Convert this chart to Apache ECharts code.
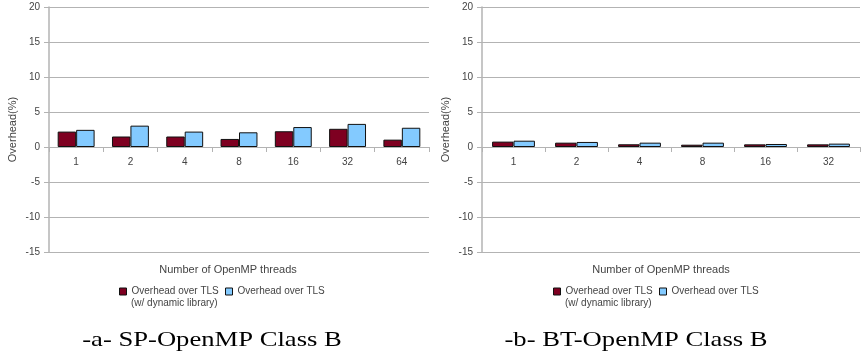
<!DOCTYPE html>
<html>
<head>
<meta charset="utf-8">
<script src="https://cdn.jsdelivr.net/npm/echarts@6/dist/echarts.min.js"></script>
<style>
html,body{margin:0;padding:0;background:#fff;}
#c{width:861px;height:357px;}
</style>
</head>
<body>
<div id="c"></div>
<script>
// ---- data ----
const spThreads = ['1', '2', '4', '8', '16', '32', '64'];
const spDynamic = [2.2, 1.5, 1.5, 1.15, 2.25, 2.6, 1.05];
const spTls = [2.45, 3.05, 2.2, 2.1, 2.85, 3.3, 2.75];

const btThreads = ['1', '2', '4', '8', '16', '32'];
const btDynamic = [0.77, 0.62, 0.39, 0.33, 0.38, 0.38];
const btTls = [0.9, 0.72, 0.62, 0.62, 0.43, 0.48];

const yTicks = {min: -15, max: 20, step: 5};
const nameDyn = 'Overhead over TLS (w/ dynamic library)';
const nameTls = 'Overhead over TLS';
const dynLine1 = 'Overhead over TLS';
const dynLine2 = '(w/ dynamic library)';
const xTitle = 'Number of OpenMP threads';
const yTitle = 'Overhead(%)';
const captions = ['-a- SP-OpenMP Class B', '-b- BT-OpenMP Class B'];

// ---- styles ----
const DARK = '#7e0021', LIGHT = '#83caff', GRID = '#b3b3b3', TXT = '#444';
const FONT = 'Liberation Sans';

const chart = echarts.init(document.getElementById('c'), null, {renderer: 'canvas'});

function yAxis(gi) {
  return {
    type: 'value', gridIndex: gi, min: yTicks.min, max: yTicks.max, interval: yTicks.step,
    name: yTitle, nameLocation: 'middle', nameGap: 31,
    nameTextStyle: {color: TXT, fontSize: 11, fontFamily: FONT},
    axisLine: {show: true, lineStyle: {color: GRID, width: 1.5}},
    axisTick: {show: true, length: 5, lineStyle: {color: GRID}},
    axisLabel: {color: TXT, fontSize: 10, fontFamily: FONT, margin: 9},
    splitLine: {show: true, lineStyle: {color: GRID, width: 1}}
  };
}
function xAxis(gi, cats) {
  return {
    type: 'category', gridIndex: gi, data: cats, position: 'bottom', offset: -105,
    axisLine: {show: true, onZero: false, lineStyle: {color: GRID, width: 1}},
    axisTick: {show: true, length: 5, alignWithLabel: false, lineStyle: {color: GRID}},
    axisLabel: {color: TXT, fontSize: 10, fontFamily: FONT, margin: 10},
    splitLine: {show: false}
  };
}
function bar(name, gi, data, color) {
  return {
    name: name, type: 'bar', xAxisIndex: gi, yAxisIndex: gi, data: data,
    barWidth: '34%', barGap: '0%',
    itemStyle: {color: color, borderColor: '#111', borderWidth: 1},
    emphasis: {disabled: true}, animation: false
  };
}
function legend(left, top, name, label) {
  return {
    left: left, top: top, padding: 0, itemWidth: 7, itemHeight: 7, itemGap: 5,
    data: [{name: name, icon: 'rect'}], selectedMode: false,
    formatter: () => label,
    itemStyle: {borderColor: '#111', borderWidth: 1},
    textStyle: {color: TXT, fontSize: 10, fontFamily: FONT, lineHeight: 11}
  };
}
function gtext(x, y, text, size, family, color, align, sx) {
  return {type: 'text', x: x, y: y, scaleX: sx || 1, originX: 0, originY: 0,
    style: {text: text, font: size + 'px "' + family + '"',
    fill: color, textAlign: align || 'center', textVerticalAlign: 'middle'}};
}

chart.setOption({
  animation: false,
  grid: [
    {left: 49, top: 7, width: 380, height: 245},
    {left: 482, top: 7, width: 378, height: 245}
  ],
  xAxis: [xAxis(0, spThreads), xAxis(1, btThreads)],
  yAxis: [yAxis(0), yAxis(1)],
  legend: [
    legend(119, 286, nameDyn, dynLine1),
    legend(225, 286, nameTls, nameTls),
    legend(553, 286, nameDyn, dynLine1),
    legend(659, 286, nameTls, nameTls)
  ],
  series: [
    bar(nameDyn, 0, spDynamic, DARK),
    bar(nameTls, 0, spTls, LIGHT),
    bar(nameDyn, 1, btDynamic, DARK),
    bar(nameTls, 1, btTls, LIGHT)
  ],
  graphic: [
    gtext(228, 270, xTitle, 11, FONT, TXT),
    gtext(661, 270, xTitle, 11, FONT, TXT),
    gtext(131, 303, dynLine2, 10, FONT, TXT, 'left'),
    gtext(565, 303, dynLine2, 10, FONT, TXT, 'left'),
    gtext(212, 340, captions[0], 22, 'Liberation Serif', '#000', 'center', 1.21),
    gtext(636, 340, captions[1], 22, 'Liberation Serif', '#000', 'center', 1.21)
  ]
});
</script>
</body>
</html>
